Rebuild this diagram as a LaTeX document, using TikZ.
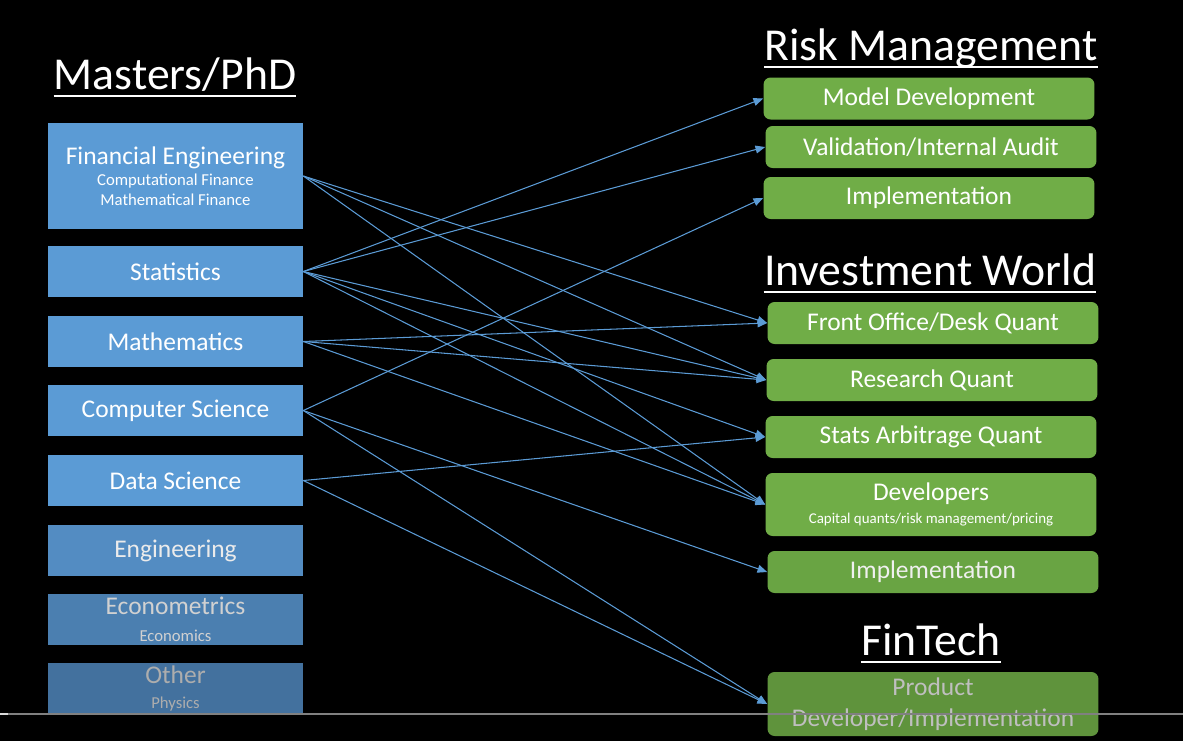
\documentclass[tikz,border=0pt]{standalone}
\usepackage{fontspec}
\setmainfont{Carlito}
\usetikzlibrary{arrows.meta}
\definecolor{degblue}{HTML}{5B9BD5}
\definecolor{degblueB}{HTML}{538CC2}
\definecolor{degblueC}{HTML}{4B7FB0}
\definecolor{degblueD}{HTML}{43719E}
\definecolor{jobgreen}{HTML}{70AD47}
\definecolor{jobgreenB}{HTML}{69A443}
\definecolor{jobgreenC}{HTML}{5F933C}
\definecolor{linkblue}{HTML}{5B9BD5}
\newcommand*{\MainFont}{\fontsize{14.5}{17}\selectfont}
\newcommand*{\SubFont}{\fontsize{9.5}{11}\selectfont}
\newcommand*{\LinkAll}[1]{% #1 = list of from/to
  \foreach \from/\to in {#1} {
    \draw[link] (\from.east) -- (\to.west);
    }%
}
\tikzset{
  degree/.style={fill=degblue, draw=none, text=white, minimum width=5.1cm,
    minimum height=1.02cm, inner sep=0pt, align=center, font=\MainFont},
  job/.style={fill=jobgreen, draw=none, rounded corners=4pt, text=white,
    minimum width=6.62cm, minimum height=0.84cm, inner sep=0pt, align=center, font=\MainFont},
  heading/.style={text=white, inner sep=0pt, font=\fontsize{26}{30}\selectfont},
  hdrule/.style={draw=white, line width=1.4pt},
  link/.style={draw=linkblue, line width=0.6pt, -{Triangle[length=5.5pt,width=4.5pt]}},
}

\begin{document}
\begin{tikzpicture}[x=0.02cm, y=-0.02cm]
  \fill[black] (0,0) rectangle (1183,741);
  \useasboundingbox (0,0) rectangle (1183,741);

  % headings
  \node[heading, anchor=base] (mp) at (175,89) {Masters/PhD};
  \node[heading, anchor=base] (rm) at (931,60) {Risk Management};
  \node[heading, anchor=base] (iw) at (930,285) {Investment World};
  \node[heading, anchor=base] (ft) at (931,655) {FinTech};
  \foreach \h in {mp,rm,iw,ft}
    \draw[hdrule] ([yshift=-4pt]\h.base west) -- ([yshift=-4pt]\h.base east);

  % left column
  \node[degree, minimum height=2.12cm] (fe) at (175.5,176)
    {Financial Engineering\\[-4.8pt]\SubFont Computational Finance\\[-5.8pt]\SubFont Mathematical Finance};
  \node[degree] (st) at (175.5,271.5) {Statistics};
  \node[degree] (ma) at (175.5,341.5) {Mathematics};
  \node[degree] (cs) at (175.5,410.5) {Computer Science};
  \node[degree] (ds) at (175.5,480.5) {Data Science};
  \node[degree, fill=degblueB, text=white!92!black] (en) at (175.5,550.5) {Engineering};
  \node[degree, fill=degblueC, text=white!82!black] (ec) at (175.5,619.5)
    {Econometrics\\[-1.5pt]\SubFont Economics};
  \node[degree, fill=degblueD, text=white!68!black] (ot) at (175.5,688.5)
    {Other\\[-2.5pt]\SubFont Physics};

  % right column
  \node[job] (md) at (929,98.5) {Model Development};
  \node[job] (va) at (931,147) {Validation/Internal Audit};
  \node[job] (imr) at (929,198) {Implementation};
  \node[job] (fo) at (933,323) {Front Office/Desk Quant};
  \node[job] (rq) at (932,380) {Research Quant};
  \node[job] (sa) at (931,437) {Stats Arbitrage Quant};
  \node[job, minimum height=1.26cm] (dev) at (931,504.5)
    {Developers\\[-3.5pt]\fontsize{8.5}{10}\selectfont Capital quants/risk management/pricing};
  \node[job, fill=jobgreenB, text=white!94!black] (imi) at (933,572) {Implementation};
  \node[job, fill=jobgreenC, text=white!75!black, minimum height=1.28cm] (pd) at (933,704)
    {Product\\[0.5pt]Developer/Implementation};

  % links
  \LinkAll{fe/fo, fe/rq, fe/dev, st/md, st/va, st/rq, st/sa, st/dev,
    ma/fo, ma/rq, ma/dev, cs/imr, cs/imi, cs/pd, ds/sa, ds/pd}

  % player bar
  \draw[gray, line width=1.2pt] (0,714) -- (1183,714);
  \draw[white!85!black, line width=1.2pt] (0,714) -- (8,714);
\end{tikzpicture}
\end{document}
